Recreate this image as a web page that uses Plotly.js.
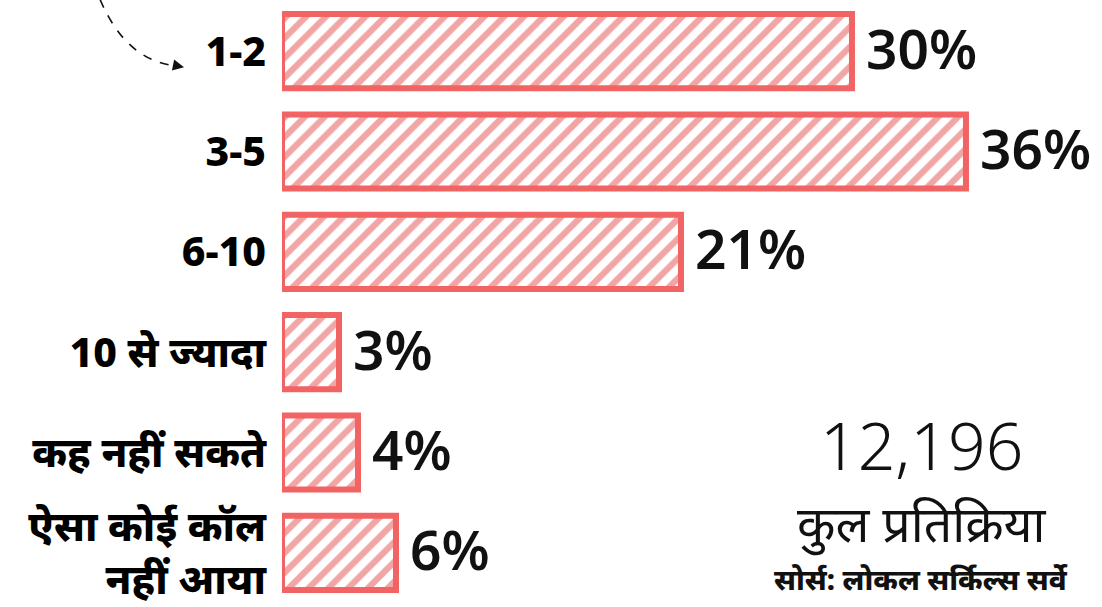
<!DOCTYPE html>
<html><head><meta charset="utf-8">
<script src="https://cdn.plot.ly/plotly-3.0.1.min.js"></script>
<style>html,body{margin:0;padding:0;background:#fff}#c{width:1102px;height:607px}</style>
</head><body><div id="c"></div>
<script>
const categories = ["1-2", "3-5", "6-10", "10 से ज्यादा", "कह नहीं सकते", "ऐसा कोई कॉल<br>नहीं आया"];
const values = [30, 36, 21, 3, 4, 6];
const valueLabels = values.map(v => v + "%");
const totalResponses = "12,196";
const totalLabel = "कुल प्रतिक्रिया";
const sourceText = "सोर्स: लोकल सर्किल्स सर्वे";

const trace = {
  type: "bar", orientation: "h",
  x: values, y: categories,
  width: 0.74,
  marker: {
    color: "#ffffff",
    line: {color: "#f26363", width: 6},
    pattern: {shape: "/", fgcolor: "#f2a5a5", bgcolor: "#ffffff", size: 14, solidity: 0.45}
  },
  hoverinfo: "skip"
};

const annotations = values.map((v, i) => ({
  x: v, y: categories[i], xref: "x", yref: "y",
  text: valueLabels[i], showarrow: false, xanchor: "left", yanchor: "middle", xshift: 12, yshift: 4,
  font: {family: "Noto Sans, sans-serif", size: 55, weight: 600, color: "#111"}
}));
annotations.push(
  {xref: "paper", yref: "paper", x: 0.78, y: 0.264, xanchor: "center", yanchor: "middle",
   text: totalResponses, showarrow: false,
   font: {family: "Noto Sans, sans-serif", size: 66, weight: 300, color: "#111"}},
  {xref: "paper", yref: "paper", x: 0.78, y: 0.133, xanchor: "center", yanchor: "middle",
   text: totalLabel, showarrow: false,
   font: {family: "Noto Sans, sans-serif", size: 50, weight: 400, color: "#111"}},
  {xref: "paper", yref: "paper", x: 0.78, y: 0.04, xanchor: "center", yanchor: "middle",
   text: sourceText, showarrow: false,
   font: {family: "Noto Sans, sans-serif", size: 29, weight: 800, color: "#111"}},
  {xref: "paper", yref: "paper", x: -0.1195, y: 0.89, ax: -10, ay: -2, text: "", showarrow: true,
   arrowhead: 2, arrowsize: 1.4, arrowwidth: 1.6, arrowcolor: "#111"}
);

const layout = {
  width: 1102, height: 607,
  margin: {l: 282, r: 0, t: 1, b: 4},
  paper_bgcolor: "#fff", plot_bgcolor: "#fff",
  showlegend: false,
  xaxis: {range: [0, 43.16], visible: false, fixedrange: true},
  yaxis: {type: "category", autorange: "reversed", showgrid: false, zeroline: false, showline: false,
          ticks: "", ticklabelstandoff: 15,
          tickfont: {family: "Noto Sans, sans-serif", size: 41, weight: 800, color: "#000"}},
  shapes: [{type: "path", xref: "paper", yref: "paper",
            path: "M -0.222 1.003 Q -0.19 0.9 -0.128 0.892",
            line: {color: "#111", width: 1.6, dash: "dash"}}],
  annotations: annotations
};
Plotly.newPlot("c", [trace], layout, {displayModeBar: false, staticPlot: true});
</script></body></html>
